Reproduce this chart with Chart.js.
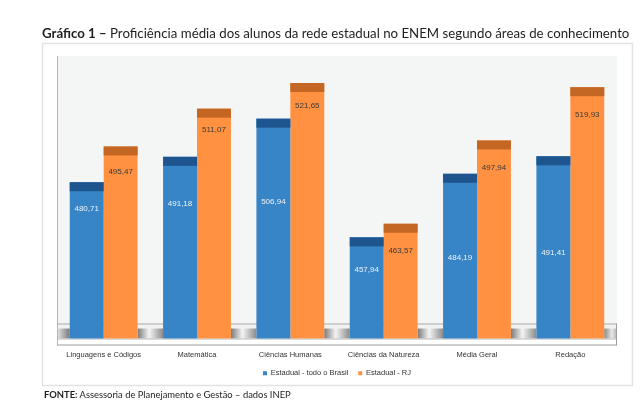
<!DOCTYPE html>
<html><head><meta charset="utf-8">
<script src="https://cdn.jsdelivr.net/npm/chart.js@4.4.1/dist/chart.umd.min.js"></script>
<style>
html,body{margin:0;padding:0;background:#fff;}
#wrap{position:relative;width:644px;height:409px;overflow:hidden;}
canvas{position:absolute;left:0;top:0;}
#title{position:absolute;left:42px;top:25px;font-family:Lato,"Open Sans",sans-serif;font-size:13.25px;color:#1e1e1e;white-space:nowrap;}
#src{position:absolute;left:44px;top:389px;font-family:Lato,"Open Sans",sans-serif;font-size:9.4px;color:#1e1e1e;white-space:nowrap;}
</style></head>
<body>
<div id="wrap">
<canvas id="c" width="644" height="409"></canvas>
<div id="title"><b>Gráfico 1 –</b> Proficiência média dos alunos da rede estadual no ENEM segundo áreas de conhecimento</div>
<div id="src"><b>FONTE:</b> Assessoria de Planejamento e Gestão – dados INEP</div>
</div>
<script>
const categories = ["Linguagens e Códigos","Matemática","Ciências Humanas","Ciências da Natureza","Média Geral","Redação"];
const seriesNames = ["Estadual - todo o Brasil","Estadual - RJ"];
const brasilValues = [480.71,491.18,506.94,457.94,484.19,491.41];
const rjValues = [495.47,511.07,521.65,463.57,497.94,519.93];

// styling / layout (not data)
const faceColors = ["#3784C6","#FF9140"];
const capColors = ["#1F558F","#C46624"];
const labelColors = ["#EEF3F8","#3a3a3a"];
const labelOffsets = [[27,47,83,32,84,97],[25,21,23,27,27,28]];
const CAP = 9;

function fmt(v){ return v.toFixed(2).replace('.',','); }

const decor = {
  id:'decor',
  beforeDatasetsDraw(chart){
    const ctx = chart.ctx, a = chart.chartArea;
    const L = a.left, R = a.right, T = a.top, B = a.bottom;
    ctx.save();
    // outer frame
    ctx.strokeStyle = '#e2e2e2'; ctx.lineWidth = 1.5;
    ctx.strokeRect(42.5, 43.5, 590, 342);
    // wall
    ctx.fillStyle = '#F4F6F6';
    ctx.fillRect(L, T, R - L, (B - 15) - T);
    // floor light band
    ctx.fillStyle = '#f2f2f2';
    ctx.fillRect(L, B - 15, R - L, 5);
    // floor gradient in gaps
    const bars = [];
    chart.data.datasets.forEach((ds, i) => {
      chart.getDatasetMeta(i).data.forEach(el => bars.push([el.x - el.width/2, el.x + el.width/2]));
    });
    bars.sort((p,q)=>p[0]-q[0]);
    const edges = [L];
    for (let i = 0; i < bars.length; i += 2) { edges.push(bars[i][0]); edges.push(bars[i+1][1]); }
    edges.push(R);
    for (let i = 0; i < edges.length; i += 2) {
      const x0 = edges[i], x1 = edges[i+1];
      const g = ctx.createLinearGradient(x0, 0, x1, 0);
      if (i === 0) { g.addColorStop(0,'#e6e6e6'); g.addColorStop(1,'#7a7a7a'); }
      else if (i === edges.length - 2) { g.addColorStop(0,'#8a8a8a'); g.addColorStop(0.6,'#e8e8e8'); g.addColorStop(1,'#b0b0b0'); }
      else { g.addColorStop(0,'#7a7a7a'); g.addColorStop(0.45,'#f4f4f4'); g.addColorStop(1,'#8a8a8a'); }
      ctx.fillStyle = g;
      ctx.fillRect(x0, B - 10, x1 - x0, 10);
    }
    // floor lines
    ctx.strokeStyle = '#a9a9a9'; ctx.lineWidth = 1;
    ctx.beginPath();
    ctx.moveTo(L, B - 14.5); ctx.lineTo(R, B - 14.5);
    ctx.stroke();
    ctx.strokeStyle = '#b8b8b8';
    ctx.beginPath();
    ctx.moveTo(L, B + 0.5); ctx.lineTo(R, B + 0.5);
    ctx.stroke();
    ctx.strokeStyle = '#9c9c9c';
    ctx.beginPath();
    ctx.moveTo(L, B + 6.5); ctx.lineTo(R - 0.5, B + 6.5);
    ctx.moveTo(R - 0.5, B - 15); ctx.lineTo(R - 0.5, B + 7);
    ctx.stroke();
    ctx.strokeStyle = '#b4b4b4';
    ctx.beginPath();
    ctx.moveTo(L + 0.5, T); ctx.lineTo(L + 0.5, B + 7);
    ctx.stroke();
    ctx.restore();
  },
  afterDatasetsDraw(chart){
    const ctx = chart.ctx;
    ctx.save();
    chart.data.datasets.forEach((ds, i) => {
      chart.getDatasetMeta(i).data.forEach((el, j) => {
        ctx.fillStyle = capColors[i];
        ctx.fillRect(el.x - el.width/2, el.y, el.width, CAP);
        ctx.fillStyle = labelColors[i];
        ctx.font = '8px "Liberation Sans", Arial, sans-serif';
        ctx.textAlign = 'center'; ctx.textBaseline = 'middle';
        ctx.fillText(fmt(ds.data[j]), el.x, el.y + labelOffsets[i][j]);
      });
    });
    ctx.restore();
  }
};

new Chart(document.getElementById('c'), {
  type: 'bar',
  data: {
    labels: categories,
    datasets: [
      { label: seriesNames[0], data: brasilValues, backgroundColor: faceColors[0], borderWidth: 0 },
      { label: seriesNames[1], data: rjValues, backgroundColor: faceColors[1], borderWidth: 0 }
    ]
  },
  options: {
    responsive: false,
    animation: false,
    layout: { padding: { left: 57, right: 27, top: 56, bottom: 22 } },
    datasets: { bar: { categoryPercentage: 0.727, barPercentage: 1 } },
    scales: {
      x: {
        grid: { display: false },
        border: { display: false },
        ticks: { color: '#333', font: { family: '"Liberation Sans", Arial, sans-serif', size: 7.5 }, padding: 3.5, maxRotation: 0 },
        afterFit(scale){ scale.height = 21; }
      },
      y: { display: false, min: 416.2, max: 532.8 }
    },
    plugins: {
      legend: {
        position: 'bottom',
        labels: { boxWidth: 4, boxHeight: 4, padding: 10, color: '#333', font: { family: '"Liberation Sans", Arial, sans-serif', size: 7.5 } }
      },
      tooltip: { enabled: false }
    }
  },
  plugins: [decor]
});
</script>
</body></html>
